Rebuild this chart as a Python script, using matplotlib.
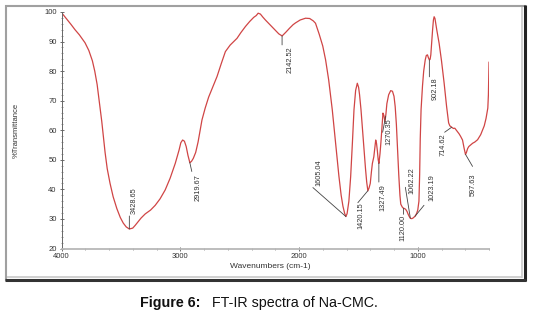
import numpy as np
import matplotlib
matplotlib.use("Agg")
import matplotlib.pyplot as plt
from matplotlib.lines import Line2D
from matplotlib.ticker import MultipleLocator

plt.rcParams['font.family'] = ['Liberation Sans', 'DejaVu Sans']

# spectrum (wavenumber cm-1, %T)
wavenumber = [4000, 3980, 3950, 3920, 3886, 3850, 3802, 3770, 3740, 3720, 3700,
              3680, 3661, 3645, 3633, 3615, 3591, 3565, 3534, 3505, 3480, 3455,
              3429, 3400, 3380, 3360, 3330, 3295, 3250, 3211, 3170, 3127, 3085,
              3042, 3010, 2995, 2980, 2965, 2950, 2935, 2919, 2905, 2890, 2870,
              2850, 2830, 2817, 2790, 2761, 2725, 2690, 2655, 2620, 2580, 2522,
              2490, 2451, 2415, 2381, 2360, 2344, 2325, 2305, 2283, 2240, 2200,
              2170, 2142, 2110, 2080, 2050, 2030, 1990, 1945, 1910, 1880, 1861,
              1830, 1800, 1776, 1750, 1720, 1690, 1664, 1645, 1630, 1615, 1605,
              1595, 1580, 1565, 1550, 1537, 1523, 1509, 1498, 1490, 1478, 1467,
              1455, 1440, 1430, 1420, 1410, 1400, 1390, 1382, 1370, 1362, 1354,
              1347, 1340, 1333, 1327, 1318, 1310, 1300, 1293, 1285, 1276, 1268,
              1260, 1245, 1228, 1213, 1200, 1190, 1180, 1171, 1160, 1150, 1143,
              1130, 1120, 1110, 1101, 1090, 1080, 1070, 1062, 1050, 1040, 1023,
              1010, 1000, 990, 984, 979, 972, 960, 950, 937, 928, 918, 910, 902,
              896, 890, 882, 875, 868, 862, 855, 845, 840, 830, 820, 800, 778,
              757, 740, 730, 714, 700, 688, 675, 665, 652, 640, 623, 610, 598,
              590, 580, 570, 555, 538, 520, 496, 470, 440, 425, 410, 405, 400]
transmittance = [99.8, 98.8, 97.3, 95.8, 94.0, 92.3, 89.6, 87.0, 83.5, 80.0, 75.5,
                 69.0, 63.0, 57.0, 52.5, 47.0, 42.0, 37.5, 33.5, 30.5, 28.6, 27.3,
                 26.6, 26.9, 27.8, 28.8, 30.3, 31.7, 33.0, 34.6, 36.8, 39.8, 43.8,
                 48.8, 53.3, 55.8, 56.7, 56.3, 54.5, 51.5, 49.0, 49.5, 50.5, 52.5,
                 56.0, 60.5, 63.5, 67.5, 71.2, 74.8, 78.2, 82.5, 86.6, 88.8, 91.1,
                 93.0, 95.1, 96.8, 98.2, 98.8, 99.6, 99.3, 98.3, 97.3, 95.5, 93.8,
                 92.6, 91.9, 93.2, 94.5, 95.7, 96.3, 97.3, 97.9, 97.8, 97.0, 96.2,
                 92.5, 88.5, 83.8, 77.0, 67.0, 55.0, 44.5, 38.0, 34.3, 31.8, 30.8,
                 31.8, 36.0, 44.3, 56.0, 66.9, 73.5, 75.9, 74.5, 72.0, 67.0, 61.2,
                 54.5, 47.0, 42.5, 39.5, 40.5, 42.0, 46.0, 48.8, 51.0, 54.0, 56.7,
                 55.5, 53.0, 50.0, 48.8, 52.0, 56.0, 62.0, 65.8, 65.0, 62.9, 65.5,
                 69.0, 72.0, 73.4, 73.2, 71.5, 68.0, 62.0, 54.0, 45.0, 38.0, 35.0,
                 34.0, 33.6, 33.5, 33.2, 32.5, 31.5, 30.7, 30.2, 30.1, 30.3, 30.9,
                 31.8, 33.0, 36.0, 45.0, 57.0, 67.0, 75.0, 80.0, 83.8, 85.3, 85.5, 84.5, 83.8,
                 84.0, 85.5, 90.0, 94.0, 97.3, 98.4, 97.8, 95.3, 94.0, 91.8, 89.4, 83.5, 76.0,
                 68.0, 62.5, 61.5, 61.0, 60.6, 60.7, 60.0, 59.4, 58.8, 58.0, 56.7, 54.0, 51.8,
                 52.5, 53.8, 54.5, 55.0, 55.6, 56.0, 56.8, 58.5, 61.5, 64.0, 67.5, 72.0, 83.0]

# peak labels
peak_wn = [3428.65, 2919.67, 2142.52, 1605.04, 1420.15, 1327.49, 1270.35,
           1120.00, 1062.22, 1023.19, 902.18, 714.62, 597.63]
peak_text = ['3428.65', '2919.67', '2142.52', '1605.04', '1420.15', '1327.49',
             '1270.35', '1120.00', '1062.22', '1023.19', '902.18', '714.62', '597.63']
# leader end and text centre offsets, pixels
line_off = [(0, 13), (2, -9), (0, -9), (-33, 29), (-10, -12), (0, -19), (-3, -16),
            (0, -6), (-5, 31), (9, 11), (0, -17), (-7, -5), (7, -12)]
text_off = [(5, 28), (8, -25), (8, -24), (-27, 44), (-7, -25), (4, -35), (3, -15),
            (-1, -20), (2, 38), (17, 29), (6, -29), (-9, -17), (8, -30)]

W, H = 534, 319
fig = plt.figure(figsize=(W / 100, H / 100), dpi=100)
ax = fig.add_axes([61.5 / W, 1 - 248.5 / H, 427.5 / W, 236.5 / H])

ax.plot(wavenumber, transmittance, color='#d04545', lw=0.9)
ax.set_xlim(4000, 400)
ax.set_ylim(20, 100)

ax.xaxis.set_major_locator(MultipleLocator(1000))
ax.xaxis.set_minor_locator(MultipleLocator(200))
ax.yaxis.set_major_locator(MultipleLocator(10))
ax.yaxis.set_minor_locator(MultipleLocator(2))
ax.set_xticks([4000, 3000, 2000, 1000])

for s in ['top', 'right']:
    ax.spines[s].set_visible(False)
ax.spines['left'].set_color('#666666')
ax.spines['left'].set_linewidth(0.7)
ax.spines['bottom'].set_color('#b8b8b8')
ax.spines['bottom'].set_linewidth(1.3)

ax.tick_params(which='major', direction='inout', length=3, width=0.6,
               color='#555555', labelsize=5.5, labelcolor='#333333', pad=2)
ax.tick_params(which='minor', direction='inout', length=2, width=0.5, color='#777777')

ax.set_xlabel('Wavenumbers (cm-1)', fontsize=6, color='#333333')
ax.xaxis.set_label_coords(0.488, -0.06)
ax.set_ylabel('%Transmittance', fontsize=5.5, color='#333333')
ax.yaxis.set_label_coords(-0.097, 0.5)

# peak annotations
for wn, txt, lo, to in zip(peak_wn, peak_text, line_off, text_off):
    y = np.interp(wn, wavenumber[::-1], transmittance[::-1])
    ax.annotate('', xy=(wn, y), xytext=lo, textcoords='offset pixels',
                arrowprops=dict(arrowstyle='-', color='#444444', lw=0.6,
                                shrinkA=0, shrinkB=0))
    ax.annotate(txt, xy=(wn, y), xytext=to, textcoords='offset pixels',
                rotation=90, ha='center', va='center', fontsize=5.3,
                color='#333333')

# picture frame round the chart
def frame_line(x0, y0, x1, y1, color, lw):
    fig.add_artist(Line2D([x0 / W, x1 / W], [1 - y0 / H, 1 - y1 / H],
                          transform=fig.transFigure, color=color, lw=lw,
                          solid_capstyle='butt'))

frame_line(5, 6, 526, 6, '#a0a0a0', 1.5)
frame_line(6, 5, 6, 281, '#a0a0a0', 1.5)
frame_line(522, 7, 522, 278, '#c8c8c8', 1.2)
frame_line(7, 277, 522, 277, '#c8c8c8', 1.2)
frame_line(525, 5, 525, 281, '#222222', 2.2)
frame_line(5, 280, 526, 280, '#333333', 2.2)

# caption
fig.text(140 / W, 1 - 303 / H, 'Figure 6:', fontsize=10.3, fontweight='bold',
         ha='left', va='center', color='#111111')
fig.text(212 / W, 1 - 303 / H, 'FT-IR spectra of Na-CMC.', fontsize=10.3,
         ha='left', va='center', color='#111111')

fig.savefig('out.png', dpi=100, facecolor='white')
